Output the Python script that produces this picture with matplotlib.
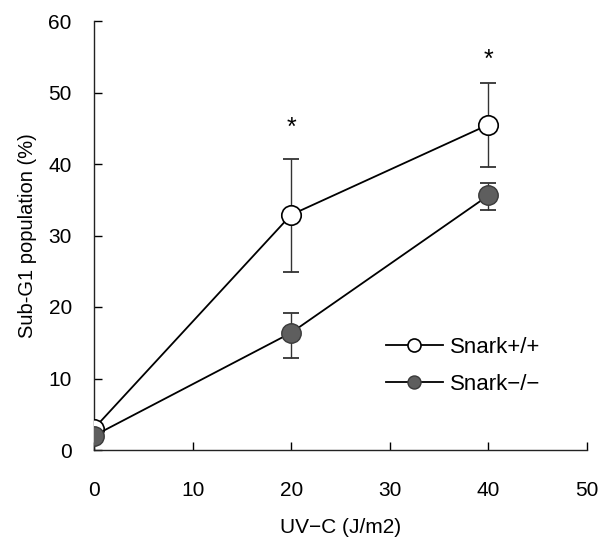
import matplotlib
matplotlib.use("Agg")
import matplotlib.pyplot as plt

plt.rcParams['font.family'] = ['Liberation Sans', 'DejaVu Sans']

dose = [0, 20, 40]
wt_mean = [3.0, 32.9, 45.5]
wt_err_lo = [0.4, 8.0, 5.9]
wt_err_hi = [0.4, 7.8, 5.8]
ko_mean = [2.0, 16.4, 35.6]
ko_err_lo = [0.4, 3.5, 2.1]
ko_err_hi = [0.4, 2.8, 1.8]
star_x = [20, 40]
star_y = [45.0, 54.6]
labels = ["Snark+/+", "Snark\u2212/\u2212"]

fig = plt.figure(figsize=(6.02, 5.38), dpi=100)
ax = fig.add_axes([94/602, 1-450/538, (587-94)/602, (450-21)/538])

ax.errorbar(dose, wt_mean, yerr=[wt_err_lo, wt_err_hi], fmt='none',
            ecolor='#333333', elinewidth=1.0, capsize=6, capthick=1.3, zorder=2)
ax.errorbar(dose, ko_mean, yerr=[ko_err_lo, ko_err_hi], fmt='none',
            ecolor='#333333', elinewidth=1.0, capsize=6, capthick=1.3, zorder=2)
ax.plot(dose, wt_mean, '-o', color='black', lw=1.3, ms=14, mfc='white',
        mec='black', mew=1.2, label=labels[0], zorder=3)
ax.plot(dose, ko_mean, '-o', color='black', lw=1.3, ms=14, mfc='#5e5e5e',
        mec='#3a3a3a', mew=1.0, label=labels[1], zorder=4)

for sx, sy in zip(star_x, star_y):
    ax.text(sx, sy, '*', ha='center', va='center', fontsize=18)

ax.set_xlim(0, 50)
ax.set_ylim(0, 60)
ax.set_xticks([0, 10, 20, 30, 40, 50])
ax.set_yticks([0, 10, 20, 30, 40, 50, 60])
ax.spines['top'].set_visible(False)
ax.spines['right'].set_visible(False)
for s in ['left', 'bottom']:
    ax.spines[s].set_linewidth(1.0)
    ax.spines[s].set_color('#222222')
ax.tick_params(direction='in', length=6, width=1.0, labelsize=15)
ax.tick_params(axis='x', pad=22)
ax.tick_params(axis='y', pad=16)
ax.set_xlabel("UV\u2212C (J/m2)", fontsize=15, labelpad=13)
ax.set_ylabel("Sub-G1 population (%)", fontsize=14.5, labelpad=8)

leg = ax.legend(loc='center left', bbox_to_anchor=(0.592, 0.196), frameon=False,
                fontsize=16, handlelength=2.57, handletextpad=0.32, borderpad=0,
                borderaxespad=0, labelspacing=0.71, markerscale=0.67)

fig.savefig("out.png", dpi=100)
